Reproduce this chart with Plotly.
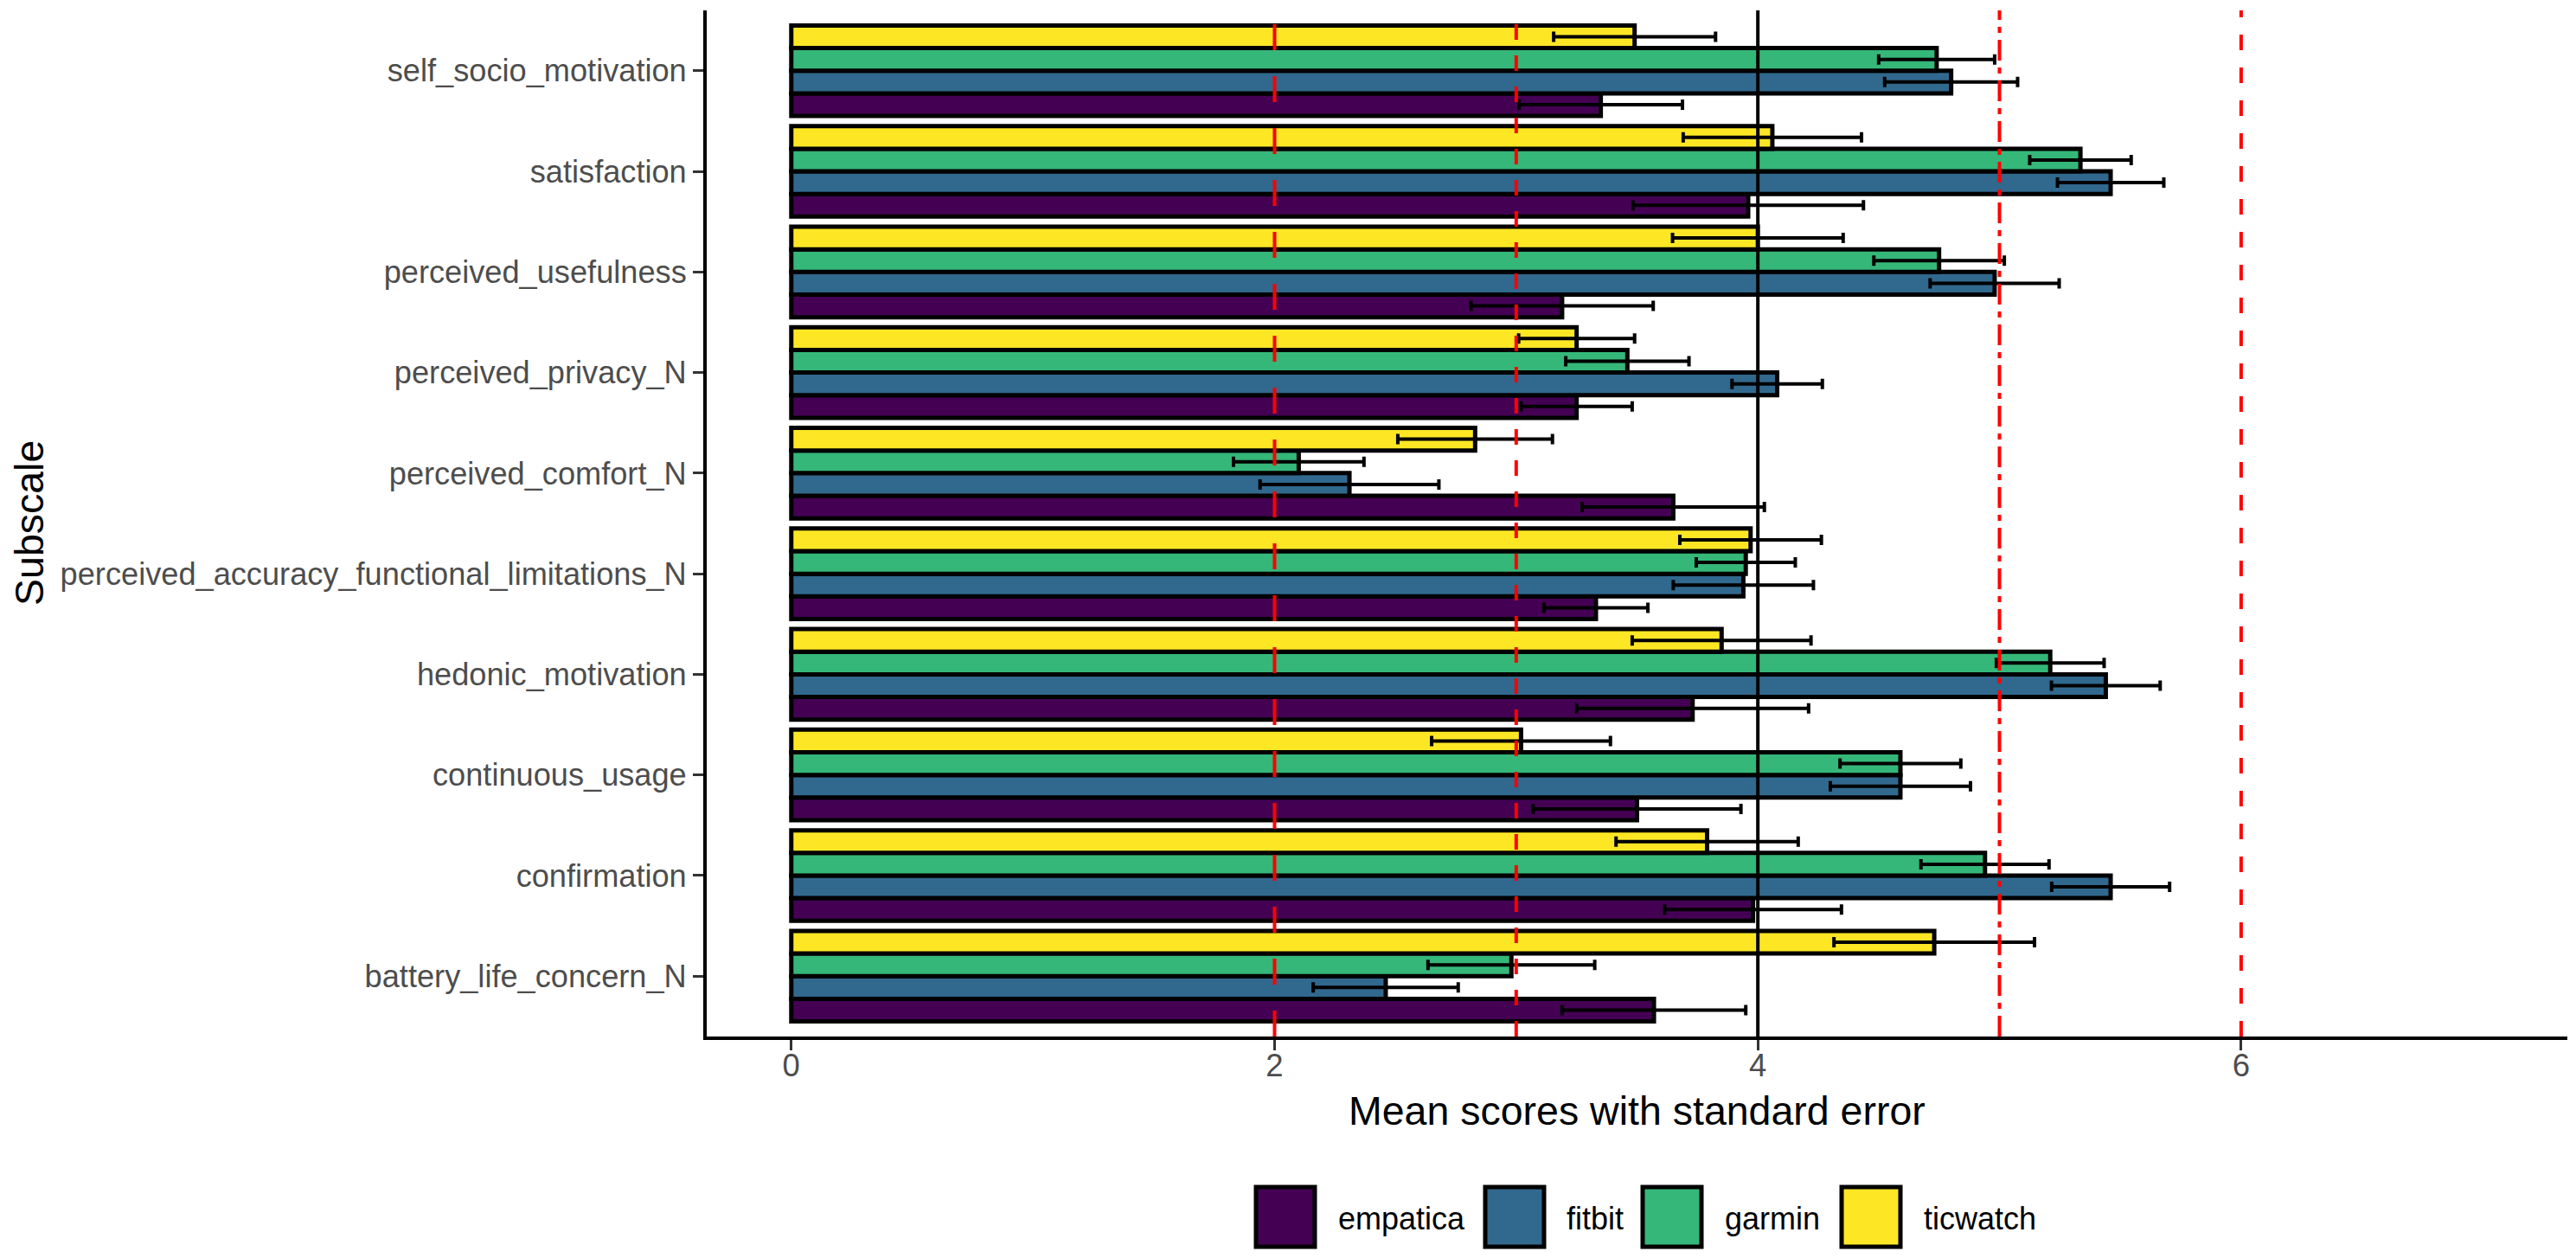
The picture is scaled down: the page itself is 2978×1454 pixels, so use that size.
import plotly.graph_objects as go

# data (bottom -> top of the chart)
subscales = [
    "battery_life_concern_N", "confirmation", "continuous_usage",
    "hedonic_motivation", "perceived_accuracy_functional_limitations_N",
    "perceived_comfort_N", "perceived_privacy_N", "perceived_usefulness",
    "satisfaction", "self_socio_motivation",
]
devices = ["empatica", "fitbit", "garmin", "ticwatch"]

empatica_mean = [3.57, 3.98, 3.50, 3.73, 3.33, 3.65, 3.25, 3.19, 3.96, 3.35]
empatica_se = [0.38, 0.366, 0.43, 0.48, 0.215, 0.377, 0.23, 0.377, 0.477, 0.338]
fitbit_mean = [2.46, 5.46, 4.59, 5.44, 3.94, 2.31, 4.08, 4.98, 5.46, 4.80]
fitbit_se = [0.30, 0.244, 0.29, 0.225, 0.29, 0.37, 0.187, 0.267, 0.22, 0.275]
garmin_mean = [2.98, 4.94, 4.59, 5.21, 3.95, 2.10, 3.46, 4.75, 5.335, 4.74]
garmin_se = [0.345, 0.265, 0.25, 0.223, 0.205, 0.27, 0.255, 0.27, 0.21, 0.24]
ticwatch_mean = [4.73, 3.79, 3.02, 3.85, 3.97, 2.83, 3.25, 4.00, 4.06, 3.49]
ticwatch_se = [0.415, 0.377, 0.37, 0.37, 0.293, 0.32, 0.24, 0.353, 0.369, 0.335]

means = [empatica_mean, fitbit_mean, garmin_mean, ticwatch_mean]
ses = [empatica_se, fitbit_se, garmin_se, ticwatch_se]
colors = ["#440154", "#31688E", "#35B779", "#FDE725"]

# reference lines: (x, colour, dash)
ref_lines = [
    (2, "#FF0000", "30px,30px"),
    (3, "#FF0000", "18px,18px"),
    (4, "black", "solid"),
    (5, "#FF0000", "24px,8px,7px,8px"),
    (6, "#FF0000", "18px,20px"),
]

# page is offset by the default 8px body margin
W, H = 2978, 1454
PAD = 8
L, R, T, B = 817, 2968, 12, 1198
FONT = "Liberation Sans, Arial, sans-serif"


def px(x):
    return (x - L) / (R - L)


def py(y):
    return (B - y) / (B - T)


fig = go.Figure()
for dev, m, s, c in zip(devices, means, ses, colors):
    fig.add_trace(go.Bar(
        y=subscales, x=m, name=dev, orientation="h",
        marker=dict(color=c, line=dict(color="black", width=5)),
        error_x=dict(type="data", array=s, color="black", thickness=4, width=6),
        showlegend=False,
    ))

shapes = []
for xv, col, dash in ref_lines:
    shapes.append(dict(type="line", xref="x", yref="paper", x0=xv, x1=xv, y0=0, y1=1,
                       line=dict(color=col, width=4, dash=dash), layer="above"))

# hand-drawn legend (big ggplot-style keys)
annotations = []
key_x = [1452, 1717, 1899, 2129]
txt_x = [1545, 1809, 1992, 2222]
for dev, c, kx, tx in zip(devices, colors, key_x, txt_x):
    shapes.append(dict(type="rect", xref="paper", yref="paper",
                       x0=px(kx), x1=px(kx + 68), y0=py(1441), y1=py(1372),
                       fillcolor=c, line=dict(color="black", width=5)))
    annotations.append(dict(xref="paper", yref="paper", x=px(tx), y=py(1408),
                            text=dev, showarrow=False, xanchor="left", yanchor="middle",
                            font=dict(size=36, color="black", family=FONT)))

annotations.append(dict(xref="paper", yref="paper", x=0.5, y=py(1284),
                        text="Mean scores with standard error", showarrow=False,
                        xanchor="center", yanchor="middle",
                        font=dict(size=46.5, color="black", family=FONT)))
annotations.append(dict(xref="paper", yref="paper", x=px(34), y=0.5,
                        text="Subscale", showarrow=False, textangle=-90,
                        xanchor="center", yanchor="middle",
                        font=dict(size=46.5, color="black", family=FONT)))

fig.update_layout(
    width=W - 2 * PAD, height=H - 2 * PAD,
    margin=dict(l=L - PAD, r=W - PAD - R, t=T - PAD, b=H - PAD - B),
    paper_bgcolor="white", plot_bgcolor="white",
    barmode="group", bargap=0.1, bargroupgap=0,
    font=dict(family=FONT),
    shapes=shapes, annotations=annotations,
    xaxis=dict(
        range=[-0.35, 7.35], tickvals=[0, 2, 4, 6], showgrid=False, zeroline=False,
        showline=True, linecolor="black", linewidth=4,
        ticks="outside", ticklen=12, tickwidth=3, tickcolor="#333333",
        ticklabelstandoff=-14,
        tickfont=dict(size=36.5, color="#4D4D4D", family=FONT),
    ),
    yaxis=dict(
        categoryorder="array", categoryarray=subscales, range=[-0.6, 9.6],
        showgrid=False, zeroline=False,
        showline=True, linecolor="black", linewidth=4,
        ticks="outside", ticklen=12, tickwidth=3, tickcolor="#333333",
        ticklabelstandoff=0,
        tickfont=dict(size=36.2, color="#4D4D4D", family=FONT),
    ),
)

fig.write_html("out.html")
